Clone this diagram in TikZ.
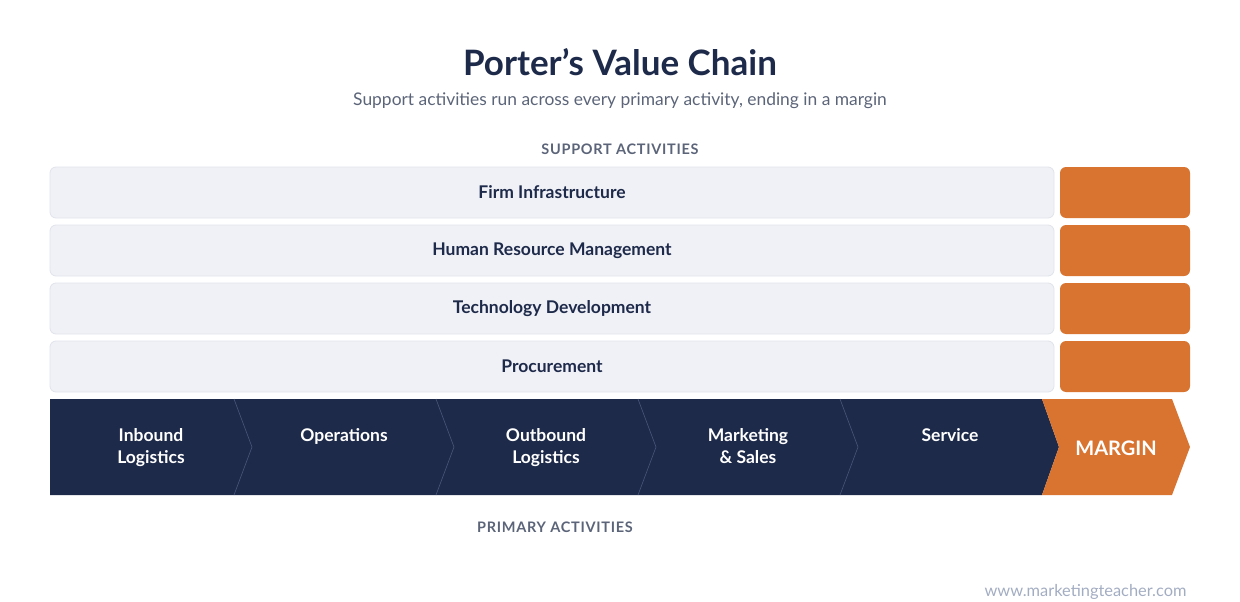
\documentclass[tikz,border=0pt]{standalone}
\usepackage{fontspec}
\setmainfont{Lato}
\newfontfamily\capsfont[LetterSpace=5]{Lato}
\definecolor{navy}{RGB}{30,42,74}
\definecolor{orng}{RGB}{217,115,48}
\definecolor{barfill}{RGB}{240,241,246}
\definecolor{barline}{RGB}{225,227,235}
\definecolor{subgray}{RGB}{91,100,120}
\definecolor{urlgray}{RGB}{163,173,194}
\definecolor{divline}{RGB}{74,86,119}
\begin{document}
\begin{tikzpicture}[x=1pt, y=-1pt,
	bar/.style = {shape=rectangle, rounded corners=6pt, draw=barline, line width=0.8pt, fill=barfill, minimum width=1004pt, minimum height=51pt, font=\fontsize{17.5}{20}\selectfont\bfseries, text=navy},
	marginbox/.style = {shape=rectangle, rounded corners=6pt, fill=orng, minimum width=130pt, minimum height=51pt},
	steplabel/.style = {anchor=north, align=center, text=white, font=\fontsize{17.5}{22}\selectfont\bfseries},
	caption/.style = {text=subgray, font=\capsfont\fontsize{14.5}{16}\selectfont\bfseries},
	divider/.style = {draw=divline, line width=0.6pt}]
	\useasboundingbox (0,0) rectangle (1240,602);
	\node[text=navy, font=\fontsize{35}{40}\selectfont\bfseries] (title) at (620,62) {Porter’s Value Chain};
	\node[text=subgray, font=\fontsize{17.4}{20}\selectfont] (subtitle) at (620,101) {Support activities run across every primary activity, ending in a margin};
	\node[caption] (support) at (620,149) {SUPPORT ACTIVITIES};
	\node[bar] (firm) at (552,192.5) {Firm Infrastructure};
	\node[bar] (hrm) at (552,250.5) {Human Resource Management};
	\node[bar] (tech) at (552,308.5) {Technology Development};
	\node[bar] (proc) at (552,366.5) {Procurement};
	\node[marginbox] (m1) at (1125,192.5) {};
	\node[marginbox] (m2) at (1125,250.5) {};
	\node[marginbox] (m3) at (1125,308.5) {};
	\node[marginbox] (m4) at (1125,366.5) {};
	\fill[navy] (50,399) -- (1042,399) -- (1059,447) -- (1042,495) -- (50,495) -- cycle;
	\foreach \x in {234,436,638,840}
		\draw[divider] (\x,399) -- (\x+18,447) -- (\x,495);
	\fill[orng] (1042,399) -- (1172,399) -- (1190,447) -- (1172,495) -- (1042,495) -- (1059,447) -- cycle;
	\node[steplabel] (inbound) at (151,425) {Inbound\\Logistics};
	\node[steplabel] (ops) at (344,425) {Operations};
	\node[steplabel] (outbound) at (546,425) {Outbound\\Logistics};
	\node[steplabel] (mkt) at (748,425) {Marketing\\\& Sales};
	\node[steplabel] (service) at (950,425) {Service};
	\node[text=white, font=\fontsize{20}{24}\selectfont\bfseries] (margin) at (1116,448) {MARGIN};
	\node[caption] (primary) at (555,527) {PRIMARY ACTIVITIES};
	\node[anchor=east, text=urlgray, font=\fontsize{16.4}{18}\selectfont] (url) at (1190,592) {www.marketingteacher.com};
\end{tikzpicture}
\end{document}
